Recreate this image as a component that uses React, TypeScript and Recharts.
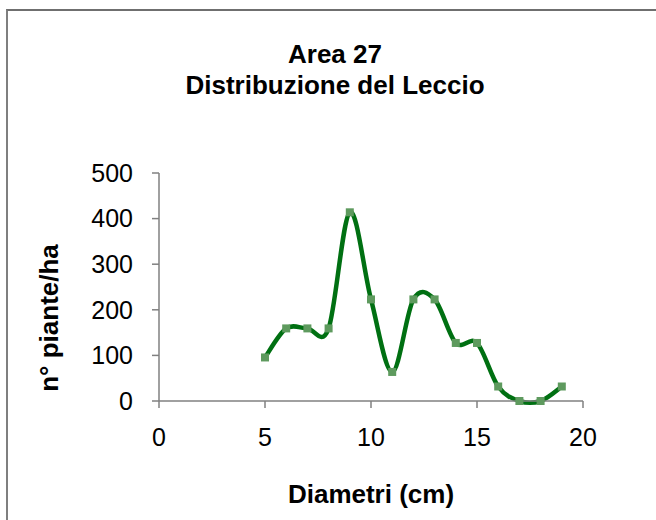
import { LineChart, Line, XAxis, YAxis, Label } from "recharts";

const diametri = [5, 6, 7, 8, 9, 10, 11, 12, 13, 14, 15, 16, 17, 18, 19];
const piante = [95.5, 159.2, 159.2, 159.2, 413.8, 222.8, 63.7, 222.8, 222.8, 127.3, 127.3, 31.8, 0, 0, 31.8];
const xTicks = [0, 5, 10, 15, 20];
const yTicks = [0, 100, 200, 300, 400, 500];
const titleLines = ["Area 27", "Distribuzione del Leccio"];

const data = diametri.map((d, i) => ({ d, n: piante[i] }));

const FONT = "'Liberation Sans', Arial, sans-serif";
const AXIS = "#808080";

// Excel-style smoothed line (Catmull-Rom as cubic bezier)
function excelCurve(context: any) {
  let pts: number[][] = [];
  return {
    areaStart() {},
    areaEnd() {},
    lineStart() {
      pts = [];
    },
    point(x: number, y: number) {
      pts.push([+x, +y]);
    },
    lineEnd() {
      if (!pts.length) return;
      context.moveTo(pts[0][0], pts[0][1]);
      for (let i = 0; i < pts.length - 1; i++) {
        const p0 = pts[i - 1] || pts[i];
        const p1 = pts[i];
        const p2 = pts[i + 1];
        const p3 = pts[i + 2] || pts[i + 1];
        context.bezierCurveTo(
          p1[0] + (p2[0] - p0[0]) / 6,
          p1[1] + (p2[1] - p0[1]) / 6,
          p2[0] - (p3[0] - p1[0]) / 6,
          p2[1] - (p3[1] - p1[1]) / 6,
          p2[0],
          p2[1]
        );
      }
    },
  };
}

const SquareDot = (props: any) => {
  const { cx, cy } = props;
  if (cx == null || cy == null) return null;
  return <rect x={cx - 4} y={cy - 4} width={8} height={8} fill="#5e9a5e" />;
};

const tickStyle = { fontSize: 25, fill: "#000", fontFamily: FONT };
const titleStyle = { fontSize: 26, fontWeight: "bold", fill: "#000", fontFamily: FONT };

export default function App() {
  return (
    <div style={{ position: "absolute", left: 0, top: 0, width: 656, height: 520, background: "#fff", overflow: "hidden", fontFamily: FONT }}>
      <div style={{ position: "absolute", left: 6, top: 9, width: 700, height: 600, borderLeft: "2px solid #7f7f7f", borderTop: "2px solid #6f6f6f" }} />
      <div style={{ position: "absolute", left: 0, top: 38.5, width: 670, textAlign: "center", fontWeight: "bold", fontSize: 26, lineHeight: "31px", color: "#000" }}>
        {titleLines.map((t) => (
          <div key={t}>{t}</div>
        ))}
      </div>
      <div style={{ position: "absolute", left: 0, top: 0 }}>
        <LineChart width={656} height={520} data={data} margin={{ top: 173, right: 73, bottom: 9, left: 99 }}>
          <XAxis
            type="number"
            dataKey="d"
            domain={[0, 20]}
            ticks={xTicks}
            height={110}
            tickSize={7}
            tickMargin={20}
            tick={tickStyle}
            axisLine={{ stroke: AXIS, strokeWidth: 1.5 }}
            tickLine={{ stroke: AXIS, strokeWidth: 1.5 }}
          >
            <Label value="Diametri (cm)" position="insideBottom" offset={8} style={titleStyle} />
          </XAxis>
          <YAxis
            type="number"
            domain={[0, 500]}
            ticks={yTicks}
            width={60}
            tickSize={7}
            tickMargin={19}
            tick={tickStyle}
            axisLine={{ stroke: AXIS, strokeWidth: 1.5 }}
            tickLine={{ stroke: AXIS, strokeWidth: 1.5 }}
          >
            <Label
              content={() => (
                <text x={58} y={318} transform="rotate(-90, 58, 318)" textAnchor="middle" style={titleStyle}>
                  n° piante/ha
                </text>
              )}
            />
          </YAxis>
          <Line dataKey="n" stroke="none" dot={<SquareDot />} activeDot={false} isAnimationActive={false} />
          <Line
            dataKey="n"
            type={excelCurve as any}
            stroke="#007012"
            strokeWidth={4.5}
            dot={false}
            activeDot={false}
            isAnimationActive={false}
          />
        </LineChart>
      </div>
    </div>
  );
}
